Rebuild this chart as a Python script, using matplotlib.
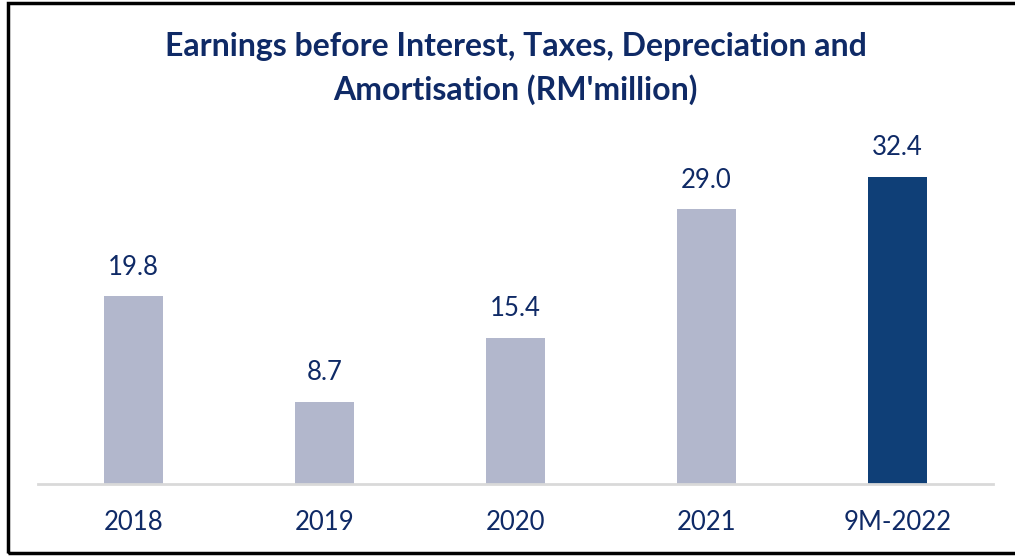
import matplotlib.pyplot as plt
from matplotlib.patches import Rectangle

periods = ["2018", "2019", "2020", "2021", "9M-2022"]
ebitda = [19.8, 8.7, 15.4, 29.0, 32.4]
value_labels = ["19.8", "8.7", "15.4", "29.0", "32.4"]

NAVY = "#0f2a66"
LIGHT = "#b2b7cc"
DARK = "#0f3f77"

plt.rcParams["font.family"] = ["Lato", "DejaVu Sans"]

fig = plt.figure(figsize=(10.15, 5.56), dpi=100)
ax = fig.add_axes([0.0374, 0.1295, 0.9409, 0.6817])

colors = [LIGHT] * (len(periods) - 1) + [DARK]
x = range(len(periods))
bars = ax.bar(x, ebitda, width=0.31, color=colors, zorder=2)

for bar, label in zip(bars, value_labels):
    ax.annotate(label, (bar.get_x() + bar.get_width() / 2, bar.get_height()),
                xytext=(0, 12), textcoords="offset points",
                ha="center", va="bottom", fontsize=18.5, color=NAVY)

ax.set_xlim(-0.5, 4.5)
ax.set_ylim(0, 40)
ax.set_xticks(list(x))
ax.set_xticklabels(periods, fontsize=18.5, color=NAVY)
ax.tick_params(axis="x", length=0, pad=19)
ax.set_yticks([])
for side in ["top", "right", "left"]:
    ax.spines[side].set_visible(False)
ax.spines["bottom"].set_color("#d9d9d9")
ax.spines["bottom"].set_linewidth(2)

fig.text(0.508, 0.917, "Earnings before Interest, Taxes, Depreciation and",
         ha="center", va="center", fontsize=23, fontweight="bold", color=NAVY)
fig.text(0.508, 0.838, "Amortisation (RM'million)",
         ha="center", va="center", fontsize=23, fontweight="bold", color=NAVY)

# frame around the chart, open on the right edge
fig.patches.append(Rectangle((8 / 1015, 3 / 556), 1.1, 550 / 556,
                             transform=fig.transFigure, fill=False,
                             edgecolor="black", linewidth=2.5))

fig.savefig("out.png", dpi=100)
